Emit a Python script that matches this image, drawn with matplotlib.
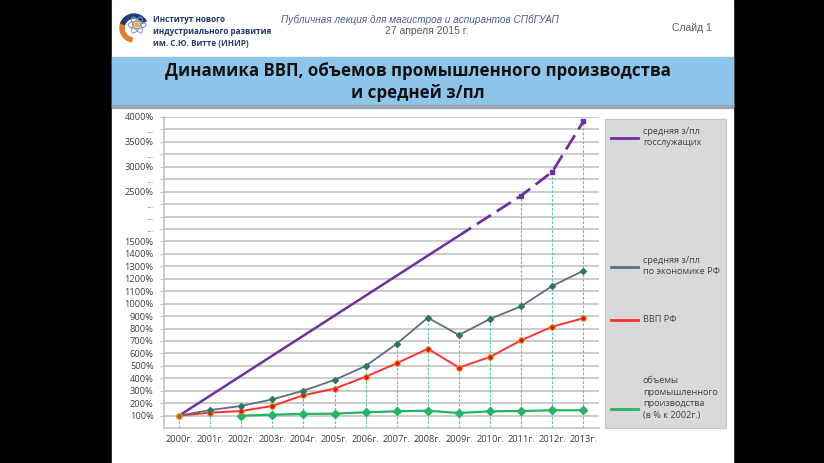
import numpy as np
import matplotlib
matplotlib.use('Agg')
import matplotlib.pyplot as plt
from matplotlib.patches import Rectangle, Wedge, Ellipse
from matplotlib.transforms import blended_transform_factory

# --- data (%) ---
years = list(range(2000, 2014))
year_labels = [f'{y}г.' for y in years]

# средняя з/пл по экономике РФ
wage_rf = [100, 145, 178, 231, 301, 387, 499, 678, 887, 748, 877, 979, 1142, 1265]
# ВВП РФ
gdp = [100, 124, 137, 178, 264, 317, 413, 521, 638, 486, 572, 706, 815, 883]
# объемы промышленного производства (в % к 2002г.)
ind_years = list(range(2002, 2014))
industry = [100, 108, 114, 116, 127, 135, 140, 121, 135, 137, 143, 143]
# средняя з/пл госслужащих (known points only)
gov_years = [2000, 2011, 2012, 2013]
gov_wage = [100, 2420, 2900, 3910]
gov_solid_until = 2009.1

tick_vals = list(range(100, 1600, 100)) + [1750, 2000, 2250, 2500, 2750, 3000, 3250, 3500, 3750, 4000]
tick_text = [f'{v}%' for v in range(100, 1600, 100)] + ['...', '...', '...', '2500%', '...', '3000%',
                                                         '...', '3500%', '...', '4000%']

legend_labels = ['средняя з/пл\nгосслужащих', 'средняя з/пл\nпо экономике РФ', 'ВВП РФ',
                 'объемы\nпромышленного\nпроизводства\n(в % к 2002г.)']

PURPLE = '#7030A0'
SLATE = '#5E6E7E'
RED = '#FF3030'
GREEN = '#22B562'
DROP = '#5CC7A6'
TXT = '#404040'
FONT = ['Open Sans', 'DejaVu Sans']

# broken axis: 100% per step up to 1500%, 250% per step above
def fwd(v):
    v = np.asarray(v, dtype=float)
    return np.where(v <= 1500, v / 100.0, 15 + (v - 1500) / 250.0)

def inv(s):
    s = np.asarray(s, dtype=float)
    return np.where(s <= 15, s * 100.0, 1500 + (s - 15) * 250.0)

W, H = 824, 463
fig = plt.figure(figsize=(W / 100, H / 100), dpi=100)
fig.patch.set_facecolor('black')

# background / slide decoration in pixel coords
bg = fig.add_axes([0, 0, 1, 1], zorder=0)
bg.set_xlim(0, W)
bg.set_ylim(H, 0)
bg.axis('off')
bg.add_patch(Rectangle((112, 0), 621, H, color='white'))
bg.add_patch(Rectangle((112, 57), 621, 50, color='#8EC6EB'))
bg.add_patch(Rectangle((112, 105), 621, 2.5, color='#9AA7B0'))
bg.text(418, 71, 'Динамика ВВП, объемов промышленного производства', ha='center', va='center',
        fontsize=12.2, fontweight='bold', family=FONT, color='#111111')
bg.text(418, 93, 'и средней з/пл', ha='center', va='center',
        fontsize=12.2, fontweight='bold', family=FONT, color='#111111')

# logo
bg.add_patch(Wedge((134, 28), 14, 100, 230, width=4, color='#E8782A'))
bg.add_patch(Wedge((134, 28), 14, 200, 330, width=4, color='#1F3C78'))
for ang in (0, 60, 120):
    bg.add_patch(Ellipse((137, 25), 18, 7, angle=ang, fill=False, ec='#7C93B0', lw=0.7))
bg.add_patch(Ellipse((137, 25), 4, 4, color='#F4B03A'))

for i, line in enumerate(['Институт нового', 'индустриального развития', 'им. С.Ю. Витте (ИНИР)']):
    bg.text(153, 19 + 12 * i, line, ha='left', va='center', fontsize=5.9, fontweight='bold',
            family=FONT, color='#1F3A6E' if i < 2 else '#2E4266')
bg.text(420, 20, 'Публичная лекция для магистров и аспирантов СПбГУАП', ha='center', va='center',
        fontsize=7.2, style='italic', family=['Liberation Sans Narrow', 'Liberation Sans'], color='#4F6284')
bg.text(427, 31, '27 апреля 2015 г.', ha='center', va='center',
        fontsize=7.5, family=['Liberation Sans Narrow', 'Liberation Sans'], color='#595959')
bg.text(692, 28, 'Слайд 1', ha='center', va='center', fontsize=7.5,
        family=['Liberation Sans', 'DejaVu Sans'], color='#595959')

# legend box
bg.add_patch(Rectangle((605, 119), 121, 309, facecolor='#D9D9D9', edgecolor='#C4C4C4', lw=0.8))
leg_colors = [PURPLE, SLATE, RED, GREEN]
leg_line_y = [138, 267, 320, 409]
leg_text_y = [137, 266, 320, 398]
for c, ly, ty, lab in zip(leg_colors, leg_line_y, leg_text_y, legend_labels):
    bg.plot([611, 638], [ly, ly], color=c, lw=2)
    bg.text(643, ty, lab, ha='left', va='center', fontsize=6.6, family=FONT, color=TXT,
            linespacing=1.35)

# chart
ax = fig.add_axes([163.5 / W, 1 - 428.1 / H, 435.4 / W, 311.1 / H], zorder=1)
ax.set_facecolor('white')
ax.set_yscale('function', functions=(fwd, inv))
ax.set_ylim(0, 4000)
ax.set_xlim(1999.5, 2013.5)

ax.set_yticks(tick_vals)
ax.set_yticklabels(tick_text)
ax.set_xticks(years)
ax.set_xticklabels(year_labels)
ax.tick_params(axis='y', length=3, color='#BFBFBF', labelsize=6.7, labelcolor=TXT, pad=4)
ax.tick_params(axis='x', length=0, labelsize=6.7, labelcolor=TXT, pad=5)
for lab in ax.get_xticklabels() + ax.get_yticklabels():
    lab.set_family(FONT)
ax.grid(axis='y', color='#BEBEBE', lw=1.1)
ax.set_axisbelow(True)
for s in ['top', 'right']:
    ax.spines[s].set_visible(False)
for s in ['left', 'bottom']:
    ax.spines[s].set_color('#BFBFBF')
    ax.spines[s].set_linewidth(1.1)

# drop lines from the highest point of each year
tops = []
for i, y in enumerate(years):
    vals = [wage_rf[i], gdp[i]]
    if y in ind_years:
        vals.append(industry[ind_years.index(y)])
    if y in gov_years:
        vals.append(gov_wage[gov_years.index(y)])
    tops.append(max(vals))
ax.vlines(years, 0, tops, colors=DROP, linestyles=(0, (2.5, 1.5)), lw=0.8, zorder=2)

ax.plot(ind_years, industry, color=GREEN, lw=1.6, marker='D', ms=4.5, mfc=GREEN, mec=GREEN, zorder=3)
ax.plot(years, gdp, color=RED, lw=1.4, marker='o', ms=4, mfc='#EE1111', mec='#E0A020', mew=0.7, zorder=4)
ax.plot(years, wage_rf, color=SLATE, lw=1.3, marker='D', ms=3, mfc='#2F7469', mec='#2F7469', zorder=5)

trans = blended_transform_factory(ax.transData, ax.transAxes)
left_clip = Rectangle((1999, 0), gov_solid_until - 1999, 1, transform=trans, visible=False)
right_clip = Rectangle((gov_solid_until, 0), 10, 1, transform=trans, visible=False)
ax.add_patch(left_clip)
ax.add_patch(right_clip)
solid, = ax.plot(gov_years[:2], gov_wage[:2], color=PURPLE, lw=1.8, zorder=6)
solid.set_clip_path(left_clip)
dashed, = ax.plot(gov_years, gov_wage, color=PURPLE, lw=2, ls=(0, (6, 2.5)), zorder=6)
dashed.set_clip_path(right_clip)
ax.plot(gov_years[1:], gov_wage[1:], ls='none', marker='s', ms=3.2, color=PURPLE, zorder=7)
ax.plot(years[:1], gdp[:1], ls='none', marker='o', ms=4, mfc='#C05020', mec='#E0A020', zorder=8)

fig.savefig('out.png', dpi=100, facecolor=fig.get_facecolor())
